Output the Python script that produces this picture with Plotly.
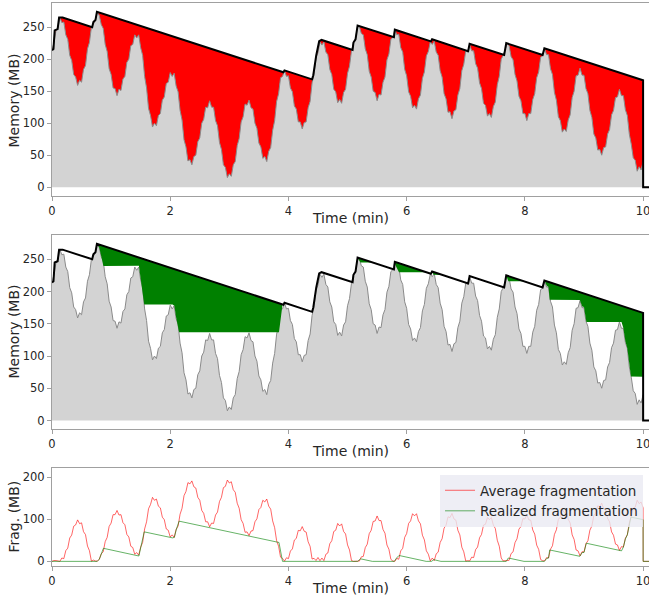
import numpy as np
import plotly.graph_objects as go

# ---------------- data ----------------
# Memory in use (MB), one reading every 2 s (1/30 min) from 0 to 10 min, then freed
mem_t = [round(i / 30, 4) for i in range(301)] + [10.001, 10.1]
mem_v = [
    214, 226, 244, 249, 265, 257, 258, 238, 231, 206, 198, 176, 172, 159, 167, 164, 184, 190, 216, 226, 250, 255, 260, 273, 268, 254, 248, 223, 212, 185,
    176, 155, 154, 143, 153, 151, 169, 173, 195, 200, 221, 223, 238, 233, 238, 218, 206, 173, 155, 123, 112, 94, 100, 96, 112, 115, 136, 141, 162, 164,
    179, 173, 178, 158, 149, 120, 105, 74, 63, 41, 43, 35, 48, 50, 71, 77, 100, 106, 125, 124, 135, 125, 125, 104, 96, 70, 59, 35, 31, 15,
    21, 17, 35, 40, 65, 76, 102, 110, 130, 128, 136, 124, 122, 100, 92, 69, 63, 45, 48, 40, 56, 62, 89, 104, 134, 146, 171, 173, 182, 173,
    174, 155, 149, 127, 122, 102, 102, 91, 101, 102, 124, 134, 163, 176, 202, 210, 227, 222, 227, 211, 207, 184, 176, 153, 149, 132, 137, 131, 148, 153,
    178, 189, 213, 226, 230, 250, 251, 240, 238, 216, 207, 181, 172, 150, 148, 135, 145, 144, 164, 172, 199, 208, 231, 234, 246, 238, 239, 218, 211, 184,
    174, 149, 142, 124, 128, 122, 138, 144, 170, 180, 205, 212, 227, 223, 228, 211, 206, 182, 172, 146, 138, 117, 118, 107, 119, 121, 144, 154, 182, 192,
    213, 211, 223, 213, 213, 193, 186, 163, 154, 131, 128, 111, 115, 109, 126, 133, 160, 173, 200, 206, 214, 224, 221, 204, 199, 176, 166, 142, 135, 115,
    115, 104, 115, 115, 137, 146, 171, 180, 203, 205, 216, 207, 207, 185, 176, 148, 136, 110, 104, 86, 91, 87, 105, 113, 140, 150, 174, 175, 186, 175,
    175, 154, 146, 120, 109, 83, 77, 58, 59, 50, 62, 63, 83, 90, 113, 120, 140, 141, 153, 143, 143, 121, 112, 83, 67, 46, 42, 25, 32, 27,
    40, 0, 0,
]

# Reserved memory (decaying high-water mark, black line), MB
env_t = [0.0, 0.025, 0.045, 0.095, 0.12, 0.18, 0.68, 0.70, 0.735, 0.76, 3.915, 3.933,
         4.40, 4.42, 4.47, 4.52, 4.56, 5.085, 5.10, 5.135, 5.17, 5.785, 5.80, 6.41,
         6.43, 7.04, 7.065, 7.65, 7.685, 8.30, 8.33, 10.0, 10.001, 10.1]
env_v = [214, 216, 245, 247, 265, 265, 250, 258, 261, 274, 179.5, 182.5,
         168.5, 175, 206, 228, 230, 214.5, 226, 231, 252.6, 234.2, 246, 227.7,
         231, 212.4, 224, 206.5, 225, 206.5, 217, 166.9, 0, 0]

# Realized fragmentation (green), MB
real_t = [0.0, 0.765, 0.80, 0.833, 0.87, 1.47, 1.50, 1.533, 1.56, 2.04, 2.07, 2.10, 2.15,
          3.84, 3.90, 5.17, 5.22, 5.42, 5.79, 5.83, 5.87, 6.33, 6.42, 6.46, 6.58,
          7.685, 7.72, 7.985, 8.33, 8.37, 8.40, 8.42, 8.93, 8.97, 9.0, 9.04, 9.635,
          9.667, 9.70, 9.733, 9.767, 9.795, 10.0, 10.001, 10.1]
real_v = [0, 0, 5, 17, 31, 12.7, 32, 45, 70, 55.7, 57, 74, 95.4,
          44.8, 0, 0, 6, 0, 0, 8, 14, 0, 0, 4, 0,
          0, 8, 0, 0, 7, 8, 27, 12, 21, 21, 43, 25,
          34, 53, 63, 89, 105, 99, 0, 0]

x_ticks = [0, 2, 4, 6, 8, 10]
mem_ticks = [0, 50, 100, 150, 200, 250]
frag_ticks = [0, 100, 200]

# ---------------- derived series ----------------
# average fragmentation = reserved - in use ; realized floor = reserved - realized
env_on_mem = np.interp(mem_t, env_t, env_v)
frag_avg = env_on_mem - np.array(mem_v)
tt = np.union1d(env_t, real_t)
env_tt = np.interp(tt, env_t, env_v)
level_tt = env_tt - np.interp(tt, real_t, real_v)

FONT = "DejaVu Sans"
GRAY_FILL = "#d3d3d3"
GRAY_LINE = "#8a8a8a"

fig = go.Figure()

# ---- top panel ----
fig.add_trace(go.Scatter(x=mem_t, y=mem_v, mode="lines", fill="tozeroy",
                         fillcolor=GRAY_FILL, line=dict(color=GRAY_LINE, width=1),
                         showlegend=False, xaxis="x", yaxis="y"))
fig.add_trace(go.Scatter(x=env_t, y=env_v, mode="lines", fill="tonexty",
                         fillcolor="#ff0000", line=dict(color="black", width=2),
                         showlegend=False, xaxis="x", yaxis="y"))

# ---- middle panel ----
fig.add_trace(go.Scatter(x=mem_t, y=mem_v, mode="lines", fill="tozeroy",
                         fillcolor=GRAY_FILL, line=dict(color=GRAY_LINE, width=1),
                         showlegend=False, xaxis="x2", yaxis="y2"))
fig.add_trace(go.Scatter(x=tt, y=level_tt, mode="lines", line=dict(width=0),
                         showlegend=False, xaxis="x2", yaxis="y2"))
fig.add_trace(go.Scatter(x=tt, y=env_tt, mode="lines", fill="tonexty",
                         fillcolor="#008000", line=dict(width=0),
                         showlegend=False, xaxis="x2", yaxis="y2"))
fig.add_trace(go.Scatter(x=env_t, y=env_v, mode="lines",
                         line=dict(color="black", width=2),
                         showlegend=False, xaxis="x2", yaxis="y2"))

# ---- bottom panel ----
fig.add_trace(go.Scatter(x=mem_t, y=frag_avg, mode="lines", name="Average fragmentation",
                         line=dict(color="rgba(255,0,0,0.6)", width=1),
                         xaxis="x3", yaxis="y3"))
fig.add_trace(go.Scatter(x=real_t, y=real_v, mode="lines", name="Realized fragmentation",
                         line=dict(color="rgba(0,128,0,0.6)", width=1),
                         xaxis="x3", yaxis="y3"))

axis_style = dict(showline=True, mirror=True, linecolor="#a0a0a0", linewidth=1.2,
                  ticks="outside", ticklen=4, tickcolor="#a0a0a0", tickwidth=1,
                  showgrid=False, zeroline=False, automargin=False,
                  ticklabeloverflow="allow",
                  tickfont=dict(family=FONT, size=11.5, color="#262626"))

H_PLOT = 563.0
def dom(top_px, bot_px):
    return [(566 - bot_px) / H_PLOT, (566 - top_px) / H_PLOT]

fig.update_layout(
    width=649, height=598,
    margin=dict(l=52, r=0, t=3, b=32),
    paper_bgcolor="white", plot_bgcolor="white",
    font=dict(family=FONT, color="#262626"),
    xaxis=dict(range=[0, 10.1], tickvals=x_ticks, anchor="y", **axis_style),
    yaxis=dict(range=[-13.7, 287.7], tickvals=mem_ticks, domain=dom(3, 196), anchor="x", **axis_style),
    xaxis2=dict(range=[0, 10.1], tickvals=x_ticks, anchor="y2", **axis_style),
    yaxis2=dict(range=[-13.7, 287.7], tickvals=mem_ticks, domain=dom(235, 429.3), anchor="x2", **axis_style),
    xaxis3=dict(range=[0, 10.1], tickvals=x_ticks, anchor="y3", **axis_style),
    yaxis3=dict(range=[-11, 221.5], tickvals=frag_ticks, domain=dom(468, 566), anchor="x3", **axis_style),
    showlegend=True,
    legend=dict(x=0.99, xanchor="right", y=(566 - 475) / H_PLOT, yanchor="top",
                traceorder="normal",
                bgcolor="rgba(234,234,242,0.8)", borderwidth=0,
                font=dict(family=FONT, size=13.5, color="#262626")),
)

def px_y(p):
    return (566 - p) / H_PLOT

def px_x(p):
    return (p - 52) / 597.0

ann = []
for yc in (218, 451, 588):
    ann.append(dict(text="Time (min)", x=0.5, y=px_y(yc), xref="paper", yref="paper",
                    showarrow=False, xanchor="center", yanchor="middle",
                    font=dict(family=FONT, size=14, color="#262626")))
for yc, label in ((101, "Memory (MB)"), (332, "Memory (MB)"), (517, "Frag. (MB)")):
    ann.append(dict(text=label, x=px_x(13.5), y=px_y(yc), xref="paper", yref="paper",
                    showarrow=False, xanchor="center", yanchor="middle", textangle=-90,
                    font=dict(family=FONT, size=14, color="#262626")))
fig.update_layout(annotations=ann)

fig.write_html("out.html")
